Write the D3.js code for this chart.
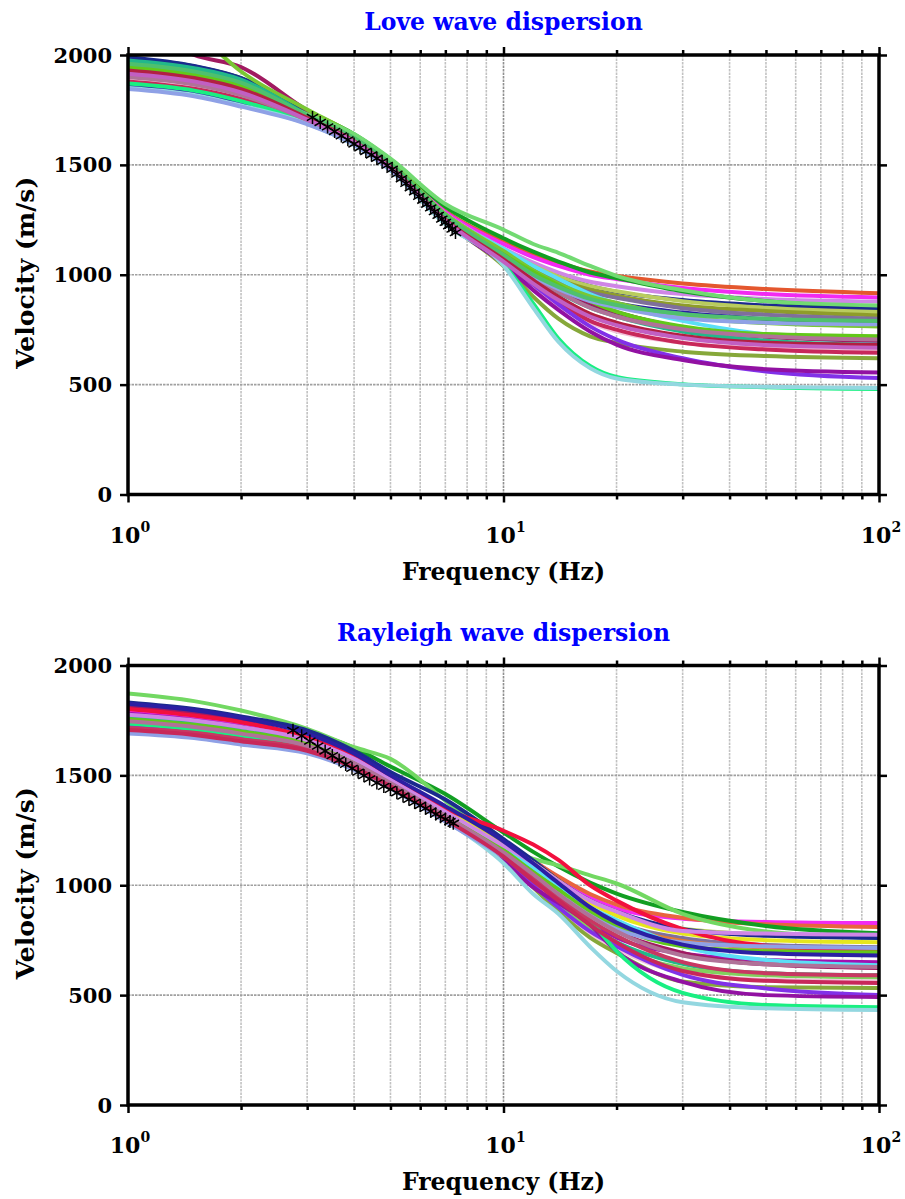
<!DOCTYPE html>
<html>
<head>
<meta charset="utf-8">
<script src="https://cdn.jsdelivr.net/npm/d3@7"></script>
<style>
  body { margin: 0; background: #fff; }
  text { font-family: "DejaVu Serif", serif; font-weight: bold; }
</style>
</head>
<body>
<div id="chart"></div>
<script>
// sample frequencies (Hz) at which every model curve is read
var freqs = [1, 1.5, 2, 3, 4, 5, 7, 10, 12, 14, 17, 20, 30, 50, 100];

var yTicks = [0, 500, 1000, 1500, 2000];
var majorFreqs = [1, 10, 100];
var minorFreqs = [2, 3, 4, 5, 6, 7, 8, 9, 20, 30, 40, 50, 60, 70, 80, 90];
var xTickExp = ["0", "1", "2"];

// Love wave model curves (m/s)
var loveColors = ["#E4572E", "#F22AF2", "#CF86E6", "#129E22", "#1B2A8E", "#B9CC5E", "#8E9C2A",
  "#7F6F9B", "#2B1FA3", "#5BDFF7", "#A311B1", "#A11A61", "#79C733", "#22B88A", "#F2C2DA",
  "#C8285A", "#86A83A", "#72DA72", "#8131E8", "#9211A2", "#19EF82", "#93D7E0", "#62C81A",
  "#B07298", "#8FA1E6", "#4FC06E", "#B22042", "#C25FC2"];
var loveCurves = [
  [1965,1930,1880,1735,1630,1515,1290,1150,1095,1055,1015,995,960,935,916],
  [1950,1915,1865,1730,1628,1512,1285,1140,1080,1040,1000,980,940,912,897],
  [1935,1900,1852,1722,1622,1508,1278,1120,1055,1010,968,948,912,890,878],
  [1985,1948,1895,1745,1640,1525,1310,1166,1105,1060,1010,985,925,880,852],
  [1990,1950,1895,1732,1625,1505,1275,1110,1035,990,948,922,885,860,843],
  [1920,1885,1835,1715,1615,1500,1275,1112,1042,992,948,925,880,850,830],
  [1900,1866,1818,1708,1610,1495,1265,1100,1028,978,932,905,860,835,815],
  [1895,1860,1812,1705,1606,1490,1260,1090,1015,965,920,895,848,818,800],
  [1860,1828,1780,1695,1600,1485,1258,1092,1010,950,900,870,828,798,780],
  [1910,1874,1825,1712,1612,1497,1268,1118,1040,982,912,868,790,728,693],
  [1945,1908,1858,1722,1618,1500,1262,1080,992,930,870,830,760,726,714],
  [2160,2000,1945,1748,1632,1510,1265,1088,990,922,860,828,758,718,700],
  [2300,2110,1925,1752,1636,1515,1275,1108,1020,960,902,872,810,780,765],
  [1975,1940,1888,1728,1620,1502,1262,1078,990,920,850,810,742,700,680],
  [1890,1856,1808,1702,1602,1485,1248,1050,940,860,782,742,690,665,655],
  [1880,1846,1800,1700,1600,1484,1245,1060,960,880,790,750,690,660,645],
  [1915,1880,1830,1710,1605,1488,1242,1040,900,800,720,690,650,630,620],
  [1930,1895,1848,1730,1640,1528,1322,1205,1140,1100,1040,995,930,880,860],
  [1925,1890,1840,1712,1606,1488,1245,1060,955,865,765,705,620,560,530],
  [1905,1870,1822,1704,1602,1483,1240,1050,930,840,742,682,612,570,555],
  [1870,1838,1790,1693,1594,1478,1232,1048,870,710,585,535,502,488,480],
  [1850,1818,1770,1688,1590,1475,1230,1042,850,695,575,528,500,490,485],
  [1945,1910,1860,1722,1618,1500,1262,1092,1012,952,880,832,765,730,720],
  [1900,1866,1818,1704,1603,1488,1252,1080,988,922,850,810,752,720,705],
  [1845,1812,1765,1685,1592,1478,1240,1070,992,935,880,852,802,782,775],
  [1960,1925,1874,1726,1622,1505,1270,1090,1000,945,890,862,822,800,790],
  [1930,1895,1845,1714,1608,1490,1250,1070,975,900,822,782,722,690,680],
  [1915,1880,1830,1706,1604,1486,1246,1060,960,885,810,770,712,680,668]
];

// Rayleigh wave model curves (m/s)
var rayColors = ["#F22AF2", "#E8643E", "#129E22", "#B9CC5E", "#72D862", "#1B2A8E", "#E6E61E",
  "#7F6F9B", "#E07A3A", "#A311B1", "#5BDFF7", "#A11A61", "#F2103E", "#22B88A", "#82D05E",
  "#F2C2DA", "#86A83A", "#8131E8", "#9211A2", "#19EF82", "#93D7E0", "#62C81A", "#8FA1E6",
  "#CF86E6", "#2B1FA3", "#C83862", "#B07298", "#C8285A"];
var rayCurves = [
  [1790,1765,1735,1665,1580,1490,1345,1200,1112,1035,945,895,848,833,828],
  [1762,1738,1708,1650,1568,1478,1335,1190,1110,1040,960,912,852,822,810],
  [1820,1792,1760,1700,1625,1540,1415,1240,1152,1085,1012,962,878,815,782],
  [1742,1718,1688,1640,1562,1472,1330,1180,1092,1012,922,872,802,776,765],
  [1873,1838,1795,1712,1628,1575,1385,1175,1120,1090,1045,1008,870,790,760],
  [1832,1802,1768,1705,1612,1515,1390,1210,1112,1022,930,880,800,770,760],
  [1772,1746,1716,1655,1572,1478,1340,1190,1100,1020,920,862,780,750,741],
  [1752,1726,1696,1640,1560,1470,1325,1170,1072,990,890,832,760,728,718],
  [1722,1700,1670,1630,1555,1465,1320,1160,1062,980,880,822,746,716,705],
  [1780,1752,1722,1650,1566,1472,1322,1150,1040,950,832,762,690,660,650],
  [1722,1700,1672,1620,1545,1460,1318,1170,1080,1000,900,842,722,660,636],
  [1812,1782,1748,1670,1582,1485,1332,1160,1050,960,862,792,692,640,623],
  [1802,1772,1742,1672,1588,1492,1348,1248,1185,1115,1000,930,800,725,705],
  [1762,1736,1706,1645,1565,1470,1320,1150,1030,930,812,742,642,600,590],
  [1746,1720,1690,1640,1560,1470,1318,1140,1020,920,800,722,622,590,580],
  [1712,1690,1662,1615,1540,1455,1305,1140,1010,900,782,712,602,570,562],
  [1732,1706,1676,1630,1550,1460,1310,1130,990,880,762,692,562,536,532],
  [1726,1700,1672,1625,1546,1460,1305,1120,1000,900,790,722,592,530,500],
  [1702,1680,1652,1610,1535,1450,1300,1110,990,920,820,700,560,500,491],
  [1736,1710,1682,1630,1550,1460,1310,1160,1040,980,840,700,510,455,445],
  [1696,1676,1646,1605,1530,1445,1295,1100,960,870,720,610,468,440,432],
  [1756,1730,1700,1645,1565,1470,1325,1160,1060,980,880,812,722,700,695],
  [1691,1670,1640,1600,1525,1440,1290,1130,1040,960,862,800,740,722,715],
  [1776,1750,1720,1660,1575,1480,1335,1180,1100,1020,930,880,792,780,775],
  [1826,1796,1762,1690,1600,1500,1360,1200,1100,1010,900,830,730,690,680],
  [1716,1694,1665,1620,1540,1455,1305,1140,1030,940,840,770,650,600,590],
  [1746,1720,1690,1635,1555,1465,1315,1150,1050,960,860,790,680,640,628],
  [1706,1684,1655,1612,1535,1450,1300,1130,1020,930,820,740,610,565,555]
];

// observed dispersion picks (asterisks)
var loveObsFreq = [3.1,3.25,3.4,3.55,3.7,3.85,4.0,4.15,4.3,4.45,4.6,4.75,4.9,5.05,5.2,
  5.35,5.5,5.65,5.8,5.95,6.1,6.25,6.4,6.55,6.7,6.85,7.0,7.15,7.3,7.45];
var loveObsVel = [1716,1693,1673,1652,1632,1614,1595,1578,1561,1545,1530,1515,1498,1480,1458,
  1437,1416,1396,1377,1357,1339,1321,1304,1287,1270,1253,1238,1223,1208,1192];
var rayObsFreq = [2.75,2.9,3.05,3.2,3.35,3.5,3.65,3.8,3.95,4.1,4.25,4.4,4.6,4.8,5.0,
  5.2,5.4,5.6,5.8,6.0,6.2,6.4,6.6,6.8,7.0,7.2,7.35];
var rayObsVel = [1705,1680,1656,1633,1611,1590,1570,1550,1532,1515,1499,1484,1466,1450,1436,
  1421,1406,1391,1377,1363,1350,1337,1324,1312,1301,1290,1282];

var W = 905, H = 1199;
var x0 = 128, x1 = 879, ph = 439.5;

var svg = d3.select("#chart").append("svg")
    .attr("width", W)
    .attr("height", H);

function drawPanel(id, top, title, curves, colors, obsF, obsV) {
    var x = d3.scaleLog().domain([1, 100]).range([x0, x1]);
    var y = d3.scaleLinear().domain([0, 2000]).range([top + ph, top]);
    var g = svg.append("g");

    g.append("clipPath").attr("id", "clip" + id)
        .append("rect")
        .attr("x", x0).attr("y", top)
        .attr("width", x1 - x0).attr("height", ph);

    // grid
    g.selectAll(".vmin").data(minorFreqs).enter().append("line")
        .attr("x1", function(d){ return x(d); })
        .attr("x2", function(d){ return x(d); })
        .attr("y1", top).attr("y2", top + ph)
        .attr("stroke", "#c2c2c2").attr("stroke-width", 1.6)
        .attr("stroke-dasharray", "2.5,1");
    g.append("line")
        .attr("x1", x(10)).attr("x2", x(10))
        .attr("y1", top).attr("y2", top + ph)
        .attr("stroke", "#909090").attr("stroke-width", 1.6)
        .attr("stroke-dasharray", "2.5,1");
    g.selectAll(".hg").data(yTicks.slice(1, 4)).enter().append("line")
        .attr("x1", x0).attr("x2", x1)
        .attr("y1", function(d){ return y(d); })
        .attr("y2", function(d){ return y(d); })
        .attr("stroke", "#a0a0a0").attr("stroke-width", 1.6)
        .attr("stroke-dasharray", "2.5,1");

    // model curves
    var line = d3.line()
        .x(function(d, i){ return x(freqs[i]); })
        .y(function(d){ return y(d); })
        .curve(d3.curveMonotoneX);

    g.append("g").attr("clip-path", "url(#clip" + id + ")")
        .selectAll("path").data(curves).enter().append("path")
        .attr("d", line)
        .attr("fill", "none")
        .attr("stroke", function(d, i){ return colors[i]; })
        .attr("stroke-width", 4)
        .attr("stroke-linejoin", "round");

    // observed picks
    var star = d3.symbol().type(d3.symbolAsterisk).size(120);
    g.selectAll(".obs").data(obsF).enter().append("path")
        .attr("d", star)
        .attr("transform", function(d, i){ return "translate(" + x(d) + "," + y(obsV[i]) + ")"; })
        .attr("fill", "none")
        .attr("stroke", "#000")
        .attr("stroke-width", 1.5);

    // axes (ticks outside on all four sides)
    function styleAxis(a) {
        a.select(".domain").remove();
        a.selectAll(".tick line").attr("stroke", "#000").attr("stroke-width", 2.5);
        a.selectAll(".tick text").remove();
    }
    g.append("g").attr("transform", "translate(0," + (top + ph) + ")")
        .call(d3.axisBottom(x).tickValues(majorFreqs).tickSize(8).tickSizeOuter(0)).call(styleAxis);
    g.append("g").attr("transform", "translate(0," + (top + ph) + ")")
        .call(d3.axisBottom(x).tickValues(minorFreqs).tickSize(5).tickSizeOuter(0)).call(styleAxis);
    g.append("g").attr("transform", "translate(0," + top + ")")
        .call(d3.axisTop(x).tickValues(majorFreqs).tickSize(8).tickSizeOuter(0)).call(styleAxis);
    g.append("g").attr("transform", "translate(0," + top + ")")
        .call(d3.axisTop(x).tickValues(minorFreqs).tickSize(5).tickSizeOuter(0)).call(styleAxis);
    g.append("g").attr("transform", "translate(" + x0 + ",0)")
        .call(d3.axisLeft(y).tickValues(yTicks).tickSize(8).tickSizeOuter(0)).call(styleAxis);
    g.append("g").attr("transform", "translate(" + x1 + ",0)")
        .call(d3.axisRight(y).tickValues(yTicks).tickSize(8).tickSizeOuter(0)).call(styleAxis);

    g.append("rect")
        .attr("x", x0).attr("y", top)
        .attr("width", x1 - x0).attr("height", ph)
        .attr("fill", "none").attr("stroke", "#000").attr("stroke-width", 3.5);

    // tick labels
    g.selectAll(".yl").data(yTicks).enter().append("text")
        .attr("x", x0 - 16)
        .attr("y", function(d){ return y(d) + 7.5; })
        .attr("text-anchor", "end")
        .attr("font-size", "21px")
        .text(function(d){ return d; });

    var xl = g.selectAll(".xl").data(majorFreqs).enter().append("text")
        .attr("x", function(d){ return x(d) + 2; })
        .attr("y", top + ph + 48)
        .attr("text-anchor", "middle")
        .attr("font-size", "22px");
    xl.append("tspan").text("10");
    xl.append("tspan").attr("font-size", "14px").attr("dy", -11)
        .text(function(d, i){ return xTickExp[i]; });

    g.append("text")
        .attr("x", (x0 + x1) / 2)
        .attr("y", top + ph + 85)
        .attr("text-anchor", "middle")
        .attr("font-size", "23.5px")
        .text("Frequency (Hz)");

    g.append("text")
        .attr("transform", "translate(34," + (top + ph / 2 - 2) + ") rotate(-90)")
        .attr("text-anchor", "middle")
        .attr("font-size", "25px")
        .text("Velocity (m/s)");

    g.append("text")
        .attr("x", (x0 + x1) / 2)
        .attr("y", top - 25)
        .attr("text-anchor", "middle")
        .attr("font-size", "23.5px")
        .attr("fill", "#0000ff")
        .text(title);
}

drawPanel("love", 55, "Love wave dispersion", loveCurves, loveColors, loveObsFreq, loveObsVel);
drawPanel("ray", 665.5, "Rayleigh wave dispersion", rayCurves, rayColors, rayObsFreq, rayObsVel);
</script>
</body>
</html>
